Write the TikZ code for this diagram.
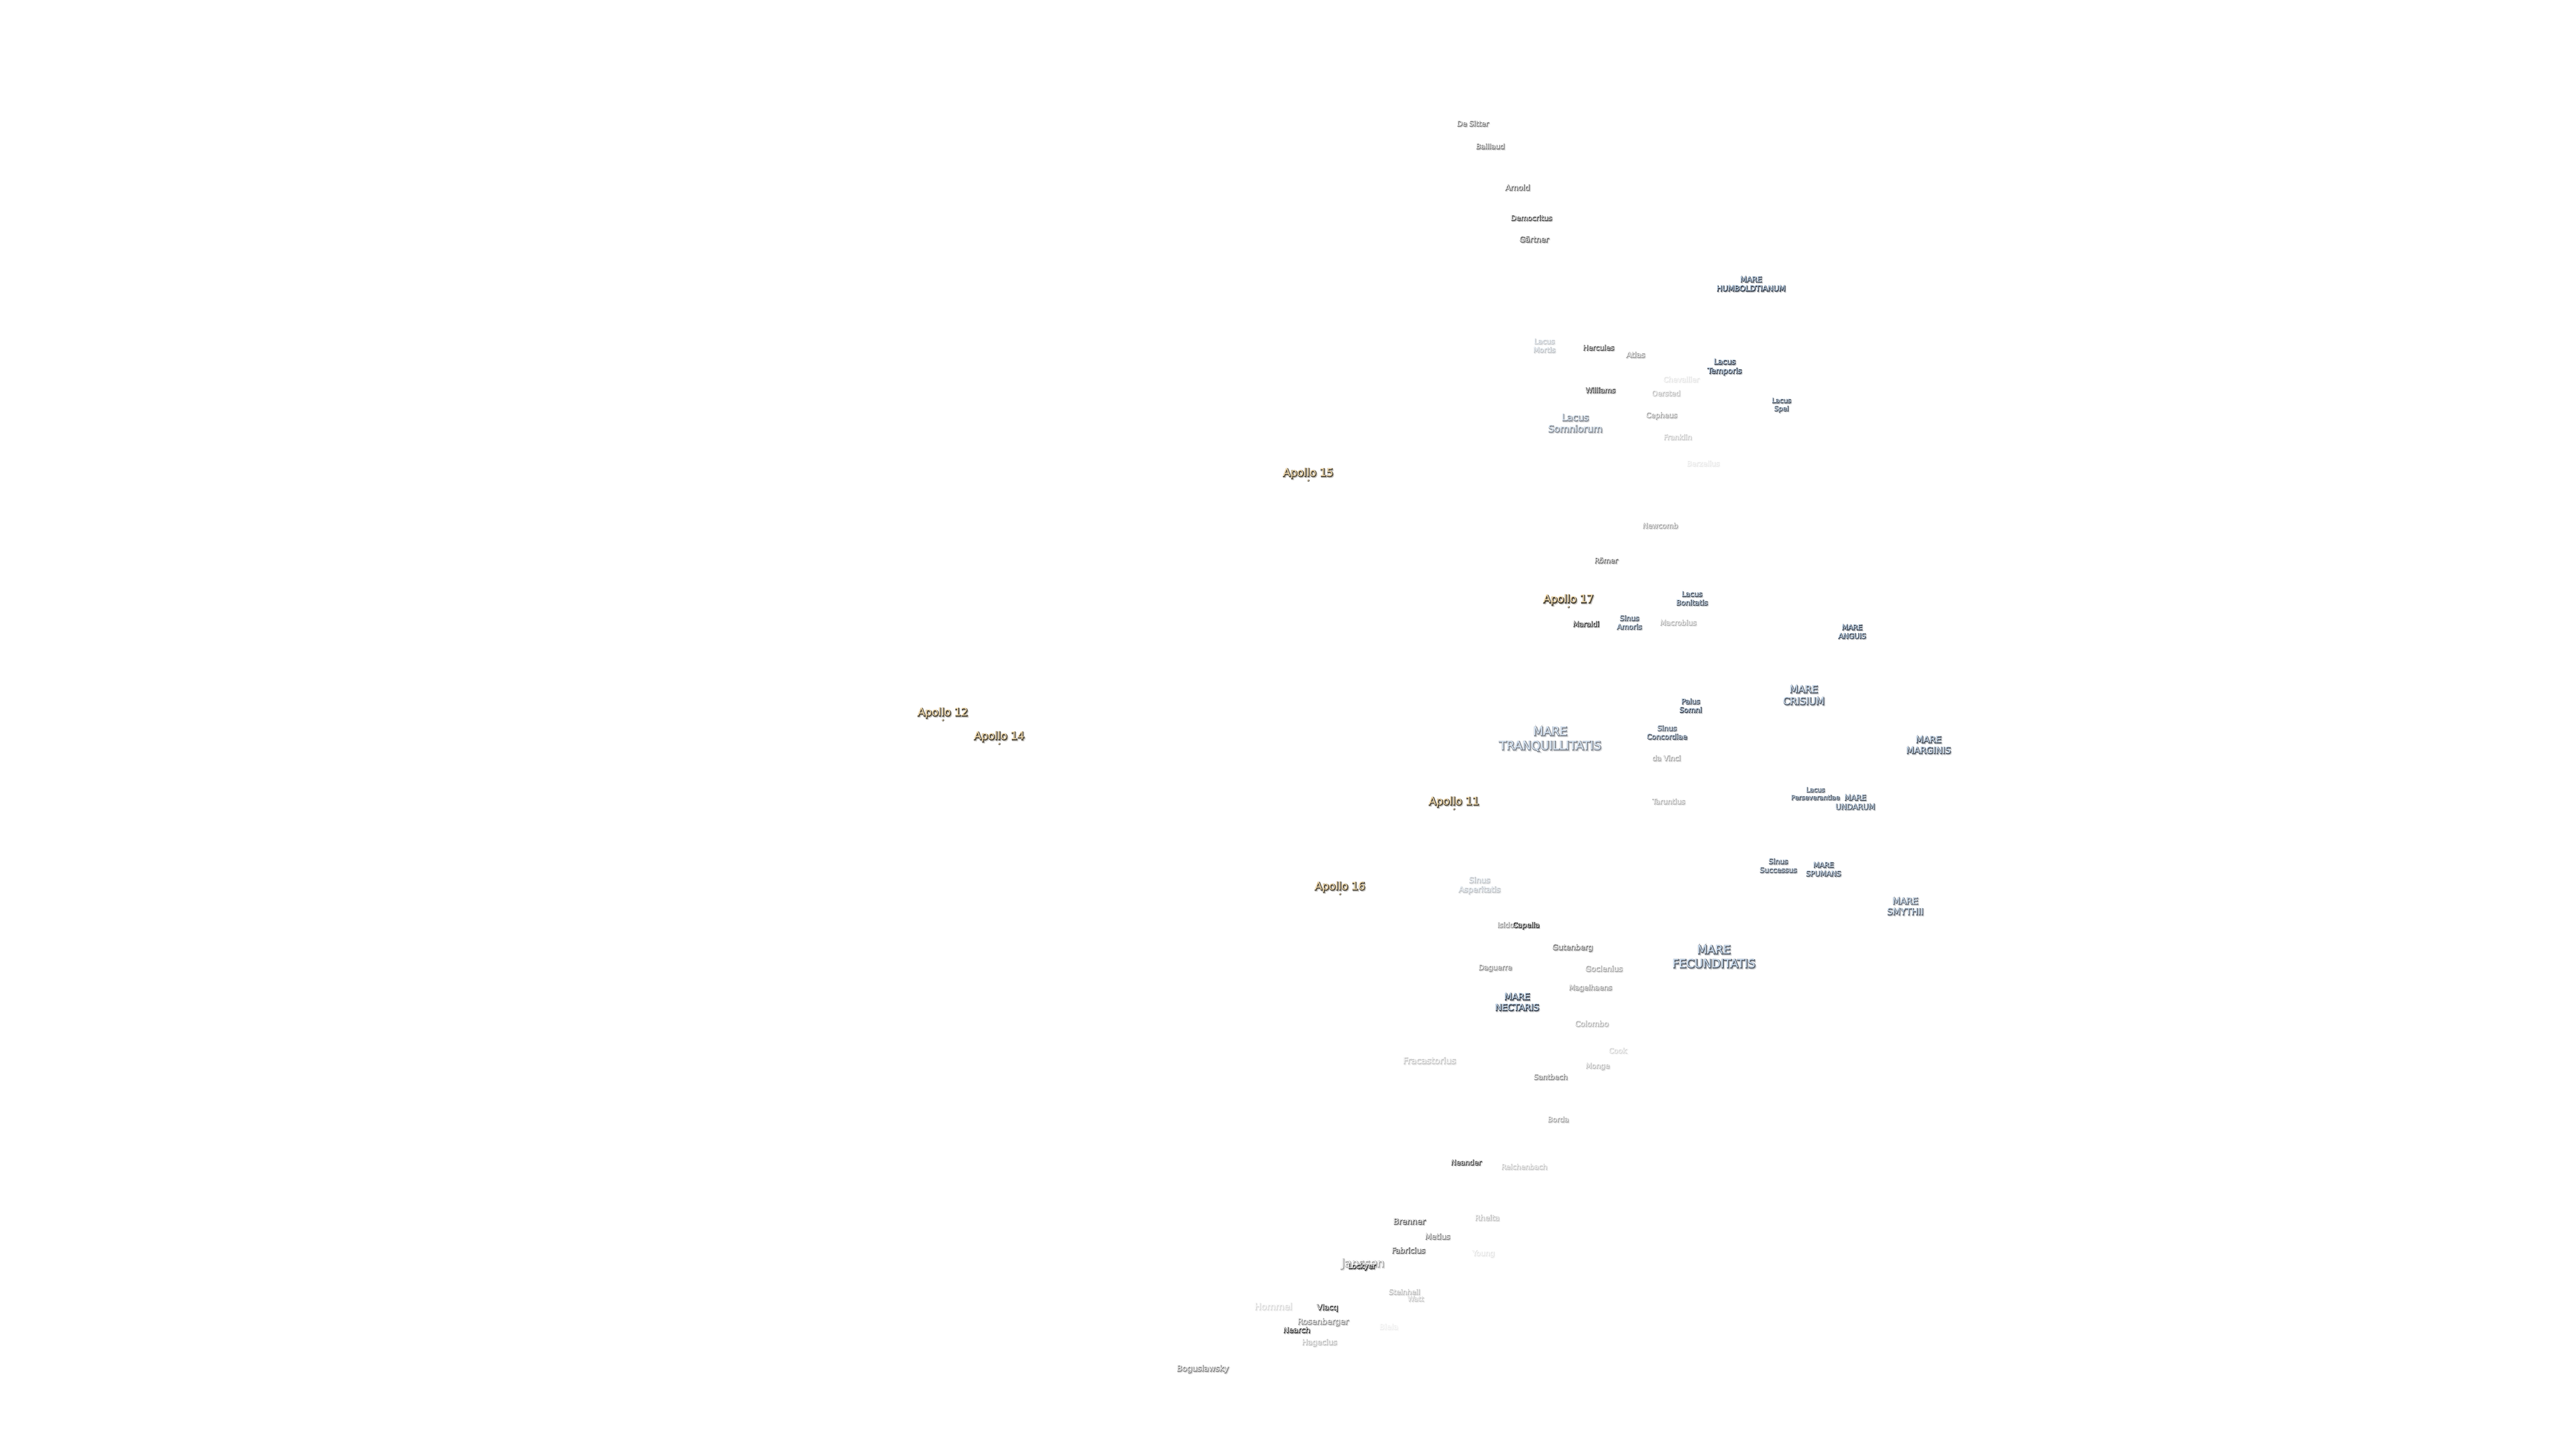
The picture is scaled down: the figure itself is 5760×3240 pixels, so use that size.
\documentclass[tikz,border=0pt]{standalone}
\usepackage{fontspec}
\setmainfont{DejaVu Sans}
\newfontfamily\boldish[FakeBold=9]{DejaVu Sans}
\newfontfamily\softish[FakeBold=14]{DejaVu Sans}
\definecolor{mfill}{HTML}{C6DCF2}
\definecolor{cfill}{HTML}{F4F4F4}
\definecolor{afill}{HTML}{F8DFB0}
\definecolor{mshad}{HTML}{3C4450}
\definecolor{cshad}{HTML}{303030}
\definecolor{ashad}{HTML}{4A4438}
% name, x, y, size, strength (0-100), fill, shadow, text
\newcommand{\lbl}[8]{%
  \pgfmathsetmacro{\lh}{1.2*#4}%
  \pgfmathsetmacro{\soft}{0.3*#5}%
  \pgfmathsetmacro{\sa}{#2+2.2}\pgfmathsetmacro{\sb}{#3-2.4}%
  \pgfmathsetmacro{\da}{#2+0.8}\pgfmathsetmacro{\db}{#3-0.9}%
  \tikzset{lbltext/.style={align=center,inner sep=0pt}}%
  \node[lbltext,font=\softish\fontsize{#4}{\lh}\selectfont,text=#7!\soft!white] (#1-soft) at (\sa,\sb) {\strut #8\strut};
  \node[lbltext,font=\boldish\fontsize{#4}{\lh}\selectfont,text=#7!#5!white] (#1-dark) at (\da,\db) {\strut #8\strut};
  \node[lbltext,font=\fontsize{#4}{\lh}\selectfont,text=#6!#5!white] (#1) at (#2,#3) {\strut #8\strut};
}
\newcommand{\site}[2]{%
  \fill[ashad!80!white] (#1+0.8,#2-15.8) circle (2.6);
  \fill[afill] (#1,#2-15) circle (1.5);
}
\begin{document}
\begin{tikzpicture}[x=1pt,y=1pt]
\useasboundingbox (0,0) rectangle (5760,-3240);
\fill[white] (0,0) rectangle (5760,-3240);
\begin{scope}[yshift=-2pt]
% northern craters
\lbl{desitter}{3293}{-276}{16}{60}{cfill}{cshad}{De Sitter}
\lbl{baillaud}{3332}{-327}{16}{60}{cfill}{cshad}{Baillaud}
\lbl{arnold}{3393}{-419}{17}{70}{cfill}{cshad}{Arnold}
\lbl{democritus}{3424}{-487}{16}{80}{cfill}{cshad}{Democritus}
\lbl{gartner}{3430}{-535}{17}{70}{cfill}{cshad}{Gärtner}
\lbl{humboldt}{3915}{-634.5}{17}{100}{mfill}{mshad}{MARE\\HUMBOLDTIANUM}
\lbl{mortis}{3453}{-772.5}{16}{30}{mfill}{mshad}{Lacus\\Mortis}
\lbl{hercules}{3574}{-777}{16}{80}{cfill}{cshad}{Hercules}
\lbl{atlas}{3657}{-793}{17}{45}{cfill}{cshad}{Atlas}
\lbl{temporis}{3856}{-818.5}{17}{95}{mfill}{mshad}{Lacus\\Temporis}
\lbl{chevallier}{3759}{-848}{16}{12}{cfill}{cshad}{Chevallier}
\lbl{williams}{3578}{-872}{16}{90}{cfill}{cshad}{Williams}
\lbl{oersted}{3725}{-879}{16}{30}{cfill}{cshad}{Oersted}
\lbl{cepheus}{3715}{-928}{16}{40}{cfill}{cshad}{Cepheus}
\lbl{somniorum}{3522}{-946.5}{21}{60}{mfill}{mshad}{Lacus\\Somniorum}
\lbl{spei}{3983}{-904}{15}{90}{mfill}{mshad}{Lacus\\Spei}
\lbl{franklin}{3751}{-977}{16}{25}{cfill}{cshad}{Franklin}
\lbl{berzelius}{3808}{-1036}{16}{10}{cfill}{cshad}{Berzelius}
\lbl{newcomb}{3712}{-1175}{16}{45}{cfill}{cshad}{Newcomb}
\lbl{romer}{3591}{-1253}{16}{65}{cfill}{cshad}{Römer}
\lbl{bonitatis}{3783}{-1337.5}{16}{90}{mfill}{mshad}{Lacus\\Bonitatis}
\lbl{maraldi}{3546}{-1395}{16}{100}{cfill}{cshad}{Maraldi}
\lbl{amoris}{3643}{-1391.5}{16}{85}{mfill}{mshad}{Sinus\\Amoris}
\lbl{macrobius}{3752}{-1392}{16}{35}{cfill}{cshad}{Macrobius}
\lbl{anguis}{4141}{-1412}{16}{100}{mfill}{mshad}{MARE\\ANGUIS}
% central maria
\lbl{tranq}{3466}{-1652}{26.5}{65}{mfill}{mshad}{MARE\\TRANQUILLITATIS}
\lbl{somni}{3780}{-1577.5}{16}{95}{mfill}{mshad}{Palus\\Somni}
\lbl{crisium}{4033}{-1555}{22}{85}{mfill}{mshad}{MARE\\CRISIUM}
\lbl{concordiae}{3727}{-1637.5}{16}{85}{mfill}{mshad}{Sinus\\Concordiae}
\lbl{davinci}{3726}{-1695}{16}{40}{cfill}{cshad}{da Vinci}
\lbl{taruntius}{3731}{-1792}{16}{35}{cfill}{cshad}{Taruntius}
\lbl{marginis}{4312}{-1666}{20}{90}{mfill}{mshad}{MARE\\MARGINIS}
\lbl{persev}{4059}{-1774}{14.5}{90}{mfill}{mshad}{Lacus\\Perseverantiae}
\lbl{undarum}{4148}{-1793.5}{17}{90}{mfill}{mshad}{MARE\\UNDARUM}
\lbl{successus}{3976}{-1935.5}{16}{85}{mfill}{mshad}{Sinus\\Successus}
\lbl{spumans}{4077}{-1943.5}{16}{90}{mfill}{mshad}{MARE\\SPUMANS}
\lbl{smythii}{4260}{-2027}{20}{80}{mfill}{mshad}{MARE\\SMYTHII}
\lbl{asperitatis}{3308}{-1978.5}{17.5}{30}{mfill}{mshad}{Sinus\\Asperitatis}
\lbl{isidorus}{3379}{-2068}{16}{50}{cfill}{cshad}{Isidorus}
\lbl{capella}{3412}{-2068}{16}{100}{cfill}{cshad}{Capella}
\lbl{gutenberg}{3516}{-2118}{17}{60}{cfill}{cshad}{Gutenberg}
\lbl{daguerre}{3343}{-2163}{16}{50}{cfill}{cshad}{Daguerre}
\lbl{goclenius}{3586}{-2166}{17}{40}{cfill}{cshad}{Goclenius}
\lbl{magelhaens}{3556}{-2208}{16}{45}{cfill}{cshad}{Magelhaens}
\lbl{fecund}{3832}{-2140}{26}{85}{mfill}{mshad}{MARE\\FECUNDITATIS}
\lbl{nectaris}{3392}{-2241}{20}{100}{mfill}{mshad}{MARE\\NECTARIS}
\lbl{colombo}{3559}{-2289}{17}{35}{cfill}{cshad}{Colombo}
% southern craters
\lbl{cook}{3617}{-2349}{16}{20}{cfill}{cshad}{Cook}
\lbl{fracastorius}{3196}{-2372}{19.5}{25}{cfill}{cshad}{Fracastorius}
\lbl{monge}{3572}{-2383}{16}{30}{cfill}{cshad}{Monge}
\lbl{santbech}{3467}{-2408}{16}{55}{cfill}{cshad}{Santbech}
\lbl{borda}{3484}{-2503}{16}{40}{cfill}{cshad}{Borda}
\lbl{neander}{3278}{-2599}{16}{90}{cfill}{cshad}{Neander}
\lbl{reichenbach}{3408}{-2609}{16}{25}{cfill}{cshad}{Reichenbach}
\lbl{brenner}{3151}{-2731}{18}{75}{cfill}{cshad}{Brenner}
\lbl{rheita}{3325}{-2723}{17}{30}{cfill}{cshad}{Rheita}
\lbl{metius}{3214}{-2765}{17}{55}{cfill}{cshad}{Metius}
\lbl{fabricius}{3149}{-2796}{17}{70}{cfill}{cshad}{Fabricius}
\lbl{young}{3317}{-2802}{16.5}{12}{cfill}{cshad}{Young}
\lbl{janssen}{3047}{-2825}{25}{45}{cfill}{cshad}{Janssen}
\lbl{lockyer}{3045}{-2831}{16}{100}{cfill}{cshad}{Lockyer}
\lbl{steinheil}{3140}{-2889}{16}{30}{cfill}{cshad}{Steinheil}
\lbl{watt}{3165}{-2904}{15.5}{25}{cfill}{cshad}{Watt}
\lbl{hommel}{2847}{-2922}{20}{18}{cfill}{cshad}{Hommel}
\lbl{vlacq}{2968}{-2923}{17}{90}{cfill}{cshad}{Vlacq}
\lbl{rosenberger}{2958}{-2955}{18}{50}{cfill}{cshad}{Rosenberger}
\lbl{nearch}{2899}{-2974}{17}{90}{cfill}{cshad}{Nearch}
\lbl{biela}{3105}{-2967}{17}{7}{cfill}{cshad}{Biela}
\lbl{hagecius}{2950}{-3001}{17}{30}{cfill}{cshad}{Hagecius}
\lbl{boguslawsky}{2689}{-3060}{18}{55}{cfill}{cshad}{Boguslawsky}
% Apollo landing sites
\lbl{apolloxv}{2925}{-1057}{24}{100}{afill}{ashad}{Apollo 15}
\site{2925}{-1057}
\lbl{apolloxii}{2108}{-1593}{24}{100}{afill}{ashad}{Apollo 12}
\site{2108}{-1593}
\lbl{apolloxiv}{2234}{-1646}{24}{100}{afill}{ashad}{Apollo 14}
\site{2234}{-1646}
\lbl{apolloxvii}{3507}{-1340}{24}{100}{afill}{ashad}{Apollo 17}
\site{3507}{-1340}
\lbl{apolloxi}{3251}{-1792}{24}{100}{afill}{ashad}{Apollo 11}
\site{3251}{-1792}
\lbl{apolloxvi}{2996}{-1982}{24}{100}{afill}{ashad}{Apollo 16}
\site{2996}{-1982}
\end{scope}
\end{tikzpicture}
\end{document}
